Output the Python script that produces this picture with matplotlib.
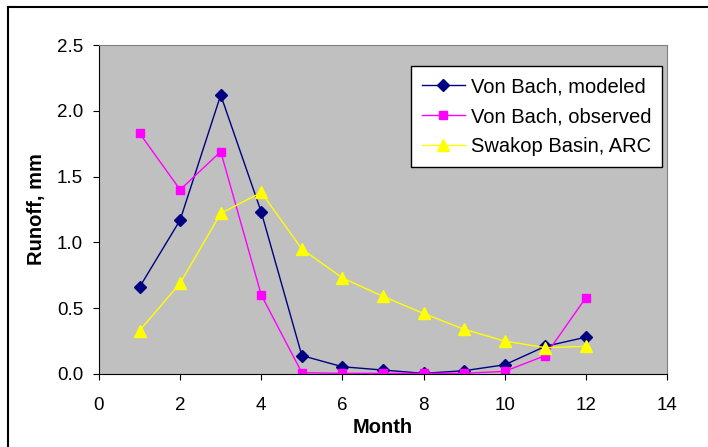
import matplotlib.pyplot as plt
from matplotlib.lines import Line2D

plt.rcParams['font.family'] = ['Liberation Sans', 'DejaVu Sans']

months = [1, 2, 3, 4, 5, 6, 7, 8, 9, 10, 11, 12]
modeled = [0.66, 1.17, 2.12, 1.23, 0.14, 0.055, 0.03, 0.005, 0.025, 0.07, 0.21, 0.28]
observed = [1.83, 1.40, 1.69, 0.60, 0.01, 0.005, 0.005, 0.005, 0.005, 0.02, 0.14, 0.58]
arc = [0.33, 0.69, 1.22, 1.38, 0.95, 0.73, 0.59, 0.46, 0.34, 0.25, 0.20, 0.21]
labels = ["Von Bach, modeled", "Von Bach, observed", "Swakop Basin, ARC"]

fig = plt.figure(figsize=(7.08, 4.47), dpi=100)
ax = fig.add_axes([99 / 708, 1 - 374 / 447, 568 / 708, 329 / 447])
ax.set_facecolor('#c0c0c0')

ax.plot(months, modeled, color='#000080', marker='D', markersize=6, lw=1, label=labels[0])
ax.plot(months, observed, color='#ff00ff', marker='s', markersize=6, lw=1, label=labels[1])
ax.plot(months, arc, color='#ffff00', marker='^', markersize=9, lw=1, label=labels[2])

ax.set_xlim(0, 14)
ax.set_ylim(0, 2.5)
ax.set_xticks(range(0, 15, 2))
ax.set_yticks([0, 0.5, 1.0, 1.5, 2.0, 2.5])
ax.set_yticklabels(['0.0', '0.5', '1.0', '1.5', '2.0', '2.5'])
ax.tick_params(direction='out', length=4.5, labelsize=13.5, colors='black')
ax.tick_params(axis='x', pad=12)
ax.tick_params(axis='y', pad=7)

for side in ['top', 'right']:
    ax.spines[side].set_color('#808080')
for side in ['left', 'bottom']:
    ax.spines[side].set_color('black')

ax.set_xlabel('Month', fontsize=14.5, fontweight='bold', labelpad=3)
ax.set_ylabel('Runoff, mm', fontsize=14.5, fontweight='bold', labelpad=8)

leg = ax.legend(loc='upper right', bbox_to_anchor=(0.9915, 0.936), fontsize=14.5,
                fancybox=False, framealpha=1, edgecolor='black',
                handlelength=2.1, handletextpad=0.3, borderpad=0.55, labelspacing=0.55,
                borderaxespad=0)
leg.get_frame().set_linewidth(1)

# outer chart border (left and top visible)
fig.add_artist(Line2D([8 / 708, 8 / 708], [0, 1 - 7 / 447], color='black', lw=1.5,
                      transform=fig.transFigure))
fig.add_artist(Line2D([8 / 708, 1], [1 - 7 / 447, 1 - 7 / 447], color='black', lw=1.5,
                      transform=fig.transFigure))

fig.savefig('out.png', dpi=100)
